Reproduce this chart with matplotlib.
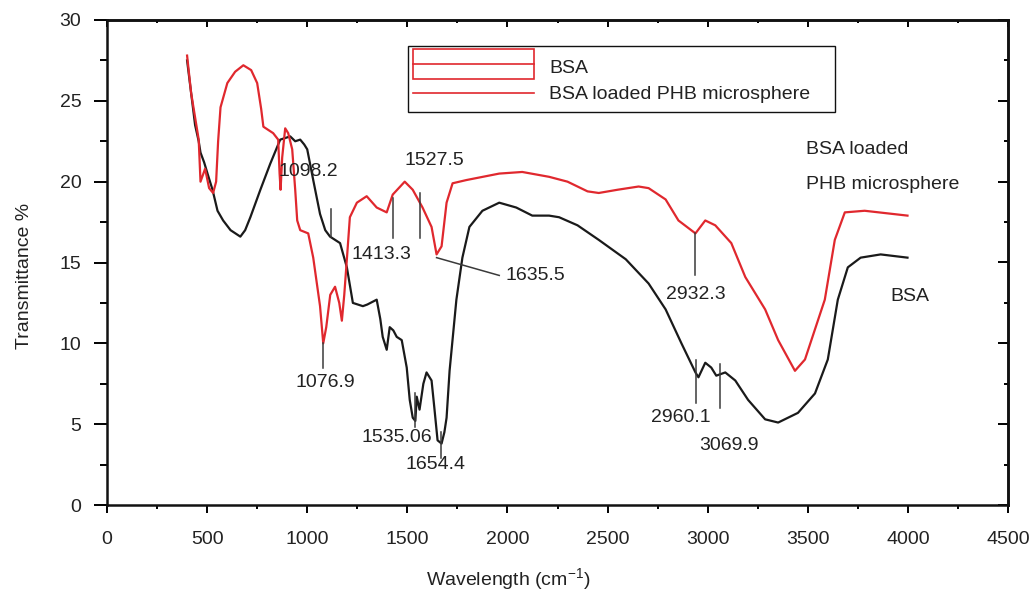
import matplotlib
matplotlib.use("Agg")
import matplotlib.pyplot as plt
from matplotlib.patches import Rectangle
from matplotlib.lines import Line2D
from matplotlib.legend_handler import HandlerBase
from matplotlib.ticker import MultipleLocator

FONT = 'Liberation Sans'
FS = 14
plt.rcParams['font.family'] = [FONT, 'DejaVu Sans']
plt.rcParams['mathtext.fontset'] = 'custom'
plt.rcParams['mathtext.rm'] = FONT
plt.rcParams['mathtext.it'] = FONT

# ---------------- data ----------------
phb_x = [400, 420, 458, 467, 490, 510, 530, 545, 555, 567, 601, 640, 681, 720, 750, 770,
         781, 830, 855, 862, 867, 875, 890, 905, 925, 940, 950, 965, 1005, 1030, 1064,
         1080, 1095, 1115, 1139, 1160, 1173, 1185, 1198, 1213, 1248, 1297, 1347, 1397,
         1427, 1487, 1527, 1576, 1621, 1646, 1671, 1696, 1726, 1795, 1959, 2074, 2208,
         2300, 2400, 2456, 2550, 2655, 2705, 2790, 2854, 2939, 2988, 3038, 3118, 3188,
         3287, 3352, 3436, 3486, 3585, 3635, 3685, 3784, 3998]
phb_y = [27.8, 25.5, 22.6, 20.0, 20.8, 19.6, 19.3, 20.0, 22.5, 24.6, 26.1, 26.8, 27.2, 26.9,
         26.1, 24.5, 23.4, 23.0, 22.6, 20.5, 19.5, 21.5, 23.3, 23.0, 22.0, 19.5, 17.6, 17.0,
         16.8, 15.3, 12.3, 10.0, 11.0, 13.0, 13.5, 12.5, 11.4, 13.0, 15.2, 17.8, 18.7, 19.1,
         18.4, 18.1, 19.2, 20.0, 19.5, 18.4, 17.2, 15.5, 16.0, 18.7, 19.9, 20.1, 20.5, 20.6,
         20.3, 20.0, 19.4, 19.3, 19.5, 19.7, 19.6, 18.9, 17.6, 16.8, 17.6, 17.3, 16.2, 14.1,
         12.1, 10.2, 8.3, 9.0, 12.7, 16.4, 18.1, 18.2, 17.9]

bsa_x = [400, 420, 440, 458, 467, 485, 502, 527, 552, 580, 617, 666, 690, 716, 766, 815,
         865, 915, 940, 965, 985, 1000, 1030, 1064, 1090, 1114, 1164, 1198, 1228, 1278,
         1300, 1347, 1365, 1377, 1397, 1412, 1430, 1447, 1472, 1497, 1512, 1527, 1540,
         1547, 1561, 1580, 1596, 1621, 1635, 1651, 1671, 1685, 1696, 1711, 1745, 1775,
         1810, 1875, 1959, 2044, 2124, 2208, 2258, 2350, 2456, 2591, 2705, 2790, 2869,
         2939, 2954, 2988, 3018, 3043, 3088, 3138, 3202, 3287, 3352, 3451, 3536, 3600,
         3650, 3700, 3764, 3864, 3998]
bsa_y = [27.5, 25.5, 23.5, 22.5, 21.8, 21.2, 20.5, 19.5, 18.2, 17.6, 17.0, 16.6, 17.0, 17.8,
         19.5, 21.1, 22.6, 22.8, 22.5, 22.6, 22.3, 22.0, 20.1, 18.0, 17.0, 16.6, 16.2, 14.7,
         12.5, 12.3, 12.4, 12.7, 11.5, 10.4, 9.6, 11.0, 10.8, 10.4, 10.2, 8.5, 6.5, 5.4, 5.2,
         6.7, 5.9, 7.5, 8.2, 7.7, 6.0, 4.0, 3.8, 4.5, 5.4, 8.3, 12.7, 15.3, 17.2, 18.2, 18.7,
         18.4, 17.9, 17.9, 17.8, 17.3, 16.4, 15.2, 13.7, 12.1, 10.0, 8.2, 7.9, 8.8, 8.5, 8.0,
         8.2, 7.7, 6.5, 5.3, 5.1, 5.7, 6.9, 9.0, 12.7, 14.7, 15.3, 15.5, 15.3]

# peak annotations: label, text position, marker-line segment
peak_labels = ['1098.2', '1527.5', '1413.3', '1635.5', '1076.9', '1535.06', '1654.4',
               '2932.3', '2960.1', '3069.9']
peak_text_x = [1004, 1636, 1370, 2140, 1092, 1447, 1641, 2939, 2864, 3108]
peak_text_y = [20.6, 21.3, 15.5, 14.2, 7.6, 4.2, 2.5, 13.0, 5.4, 3.7]
peak_line_x0 = [1120, 1561, 1427, 1646, 1079, 1537, 1666, 2939, 2944, 3063]
peak_line_x1 = [1120, 1561, 1427, 1959, 1079, 1537, 1666, 2939, 2944, 3063]
peak_line_y0 = [18.3, 19.3, 19.0, 15.3, 10.0, 6.9, 4.5, 16.8, 9.0, 8.7]
peak_line_y1 = [16.6, 16.5, 16.5, 14.2, 8.5, 4.8, 2.9, 14.2, 6.3, 6.0]

x_ticks = [0, 500, 1000, 1500, 2000, 2500, 3000, 3500, 4000, 4500]
y_ticks = [0, 5, 10, 15, 20, 25, 30]

RED = '#e0282e'
BLACK = '#1a1a1a'
TXT = '#222222'
PX = FS * 100 / 72.0  # font size in pixels

fig = plt.figure(figsize=(10.32, 5.95), dpi=100)
ax = fig.add_axes([107/1032, 90/595, 901/1032, 485/595])

ax.plot(bsa_x, bsa_y, color=BLACK, lw=1.6, zorder=3)
ax.plot(phb_x, phb_y, color=RED, lw=1.6, zorder=4)

for lab, tx, ty, x0, x1, y0, y1 in zip(peak_labels, peak_text_x, peak_text_y,
                                       peak_line_x0, peak_line_x1, peak_line_y0, peak_line_y1):
    ax.plot([x0, x1], [y0, y1], color='#3a3a3a', lw=1.1, zorder=5)
    ax.text(tx, ty, lab, ha='center', va='center', fontsize=FS, color=TXT, zorder=6)

ax.text(3491, 22.0, 'BSA loaded', ha='left', va='center', fontsize=FS, color=TXT)
ax.text(3491, 19.8, 'PHB microsphere', ha='left', va='center', fontsize=FS, color=TXT)
ax.text(3913, 12.9, 'BSA', ha='left', va='center', fontsize=FS, color=TXT)

ax.set_xlim(0, 4500)
ax.set_ylim(0, 30)
ax.set_xticks(x_ticks)
ax.set_yticks(y_ticks)
ax.xaxis.set_minor_locator(MultipleLocator(250))
ax.yaxis.set_minor_locator(MultipleLocator(2.5))
ax.tick_params(axis='both', labelsize=FS, labelcolor=TXT, width=1.4, top=False, right=False)
ax.tick_params(axis='y', which='major', direction='out', length=9.5, pad=9)
ax.tick_params(axis='y', which='minor', direction='out', length=5, width=1.4)
ax.tick_params(axis='x', which='major', direction='out', length=6, pad=13)
ax.tick_params(axis='x', which='minor', direction='out', length=3, width=1.4)
for s in ax.spines.values():
    s.set_linewidth(1.8)
    s.set_color('#111111')

secx = ax.secondary_xaxis('top')
secx.set_xticks(x_ticks)
secx.xaxis.set_minor_locator(MultipleLocator(250))
secx.tick_params(which='major', direction='in', length=5, width=1.4, labeltop=False)
secx.tick_params(which='minor', direction='in', length=2.5, width=1.4)
secx.spines['top'].set_linewidth(1.8)

secy = ax.secondary_yaxis('right')
secy.set_yticks(y_ticks)
secy.yaxis.set_minor_locator(MultipleLocator(2.5))
secy.tick_params(which='major', direction='in', length=7, width=1.4, labelright=False)
secy.tick_params(which='minor', direction='in', length=3, width=1.4)
secy.spines['right'].set_linewidth(1.8)

ax.set_xlabel('Wavelength (cm$^{-1}$)', fontsize=FS, color=TXT)
ax.set_ylabel('Transmittance %', fontsize=FS, color=TXT)
ax.xaxis.set_label_coords(0.445, -0.125)
ax.yaxis.set_label_coords(-0.082, 0.472)

# legend (reproduces the original's red box-style key)
class BoxKey:
    pass

class BoxLineHandler(HandlerBase):
    def create_artists(self, legend, orig_handle, xdescent, ydescent, width, height,
                       fontsize, trans):
        cy = height / 2 - ydescent
        h = 30.0 / PX * fontsize
        rect = Rectangle((-xdescent, cy - h / 2 + 1), width, h, facecolor='none',
                         edgecolor=RED, lw=1.2, transform=trans)
        line = Line2D([-xdescent, -xdescent + width], [cy + 1, cy + 1], color=RED, lw=1.2,
                      transform=trans)
        return [rect, line]

frame = Rectangle((0.3341, 0.8103), 0.4739, 0.1361, transform=ax.transAxes,
                  facecolor='white', edgecolor='#111111', lw=1.0, zorder=7)
ax.add_patch(frame)

handles = [BoxKey(), Line2D([], [], color=RED, lw=1.2)]
labels = ['BSA', 'BSA loaded PHB microsphere']
top_px = 59
leg = ax.legend(handles, labels, handler_map={BoxKey: BoxLineHandler()},
                loc='upper left', bbox_to_anchor=((413 - 107) / 901, (505 - top_px) / 485),
                bbox_transform=ax.transAxes, frameon=False, borderpad=0,
                borderaxespad=0, handlelength=121 / PX, handletextpad=15 / PX,
                labelspacing=0.47, fontsize=FS)
for t in leg.get_texts():
    t.set_color(TXT)
leg.set_zorder(8)

fig.savefig('out.png', dpi=100)
